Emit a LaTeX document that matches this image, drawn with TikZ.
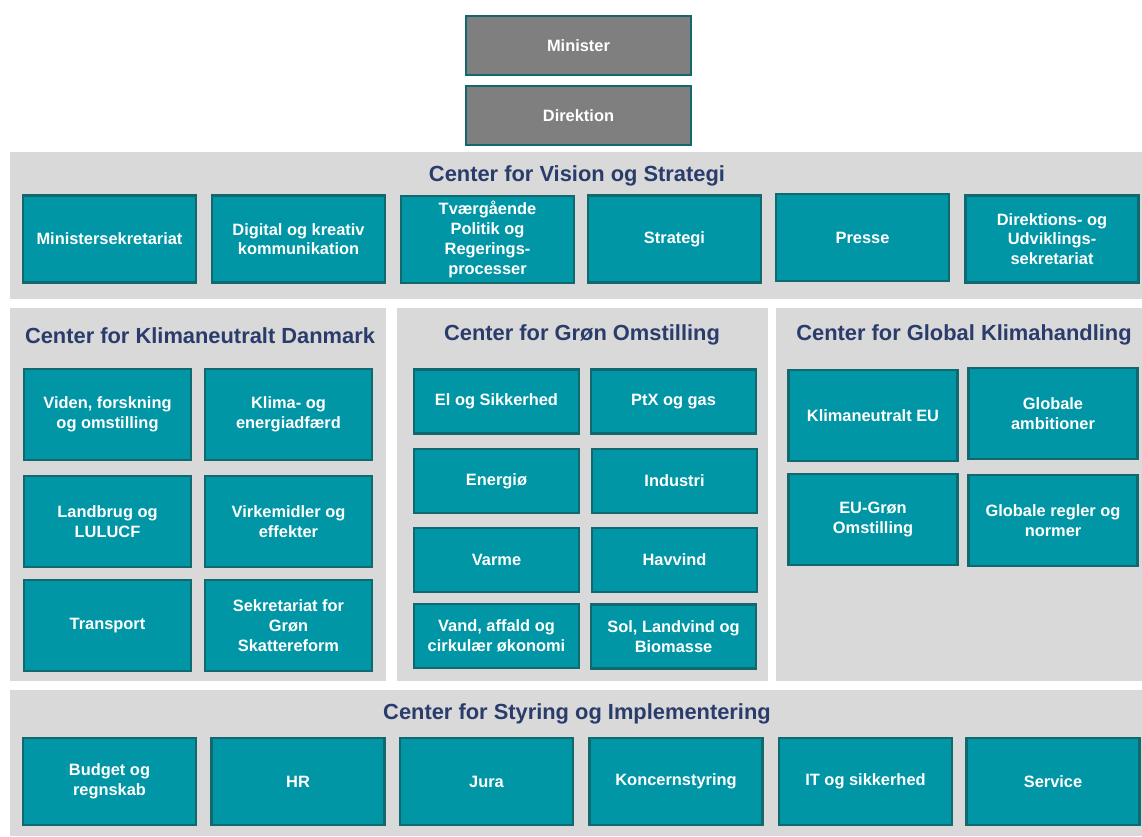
\documentclass[tikz,border=0pt]{standalone}
\usepackage{fontspec}
\setmainfont{Liberation Sans}
\usetikzlibrary{positioning}
\definecolor{boxfill}{HTML}{0096A5}
\definecolor{boxline}{HTML}{12686F}
\definecolor{headgray}{HTML}{7F7F7F}
\definecolor{panelgray}{HTML}{D9D9D9}
\definecolor{titleblue}{HTML}{2A3C6B}
\begin{document}
\begin{tikzpicture}[x=0.75pt, y=-0.75pt,
    panel/.style = {fill=panelgray},
    title/.style = {text=titleblue, font=\fontsize{16.4}{19}\selectfont\bfseries},
    unit/.style  = {draw=boxline, line width=1.8pt, fill=boxfill, text=white, align=center,
                    inner sep=2pt, font=\fontsize{12.3}{14.8}\selectfont\bfseries},
    head/.style  = {unit, fill=headgray, minimum width=169pt, minimum height=44pt},
    wide/.style  = {unit, minimum width=130pt, minimum height=65pt},
    klima/.style = {unit, minimum width=125pt, minimum height=68pt},
    gron/.style  = {unit, minimum width=124pt, minimum height=48pt},
    glob/.style  = {unit, minimum width=127pt, minimum height=68pt}]
\useasboundingbox (0,0) rectangle (1142,836);

% top
\node[head] (minister) at (578.5,45.5) {Minister};
\node[head, below=6.75pt of minister] (direktion) {Direktion};

% grey panels
\fill[panel] (10,152) rectangle (1142,299);
\fill[panel] (10,308) rectangle (386,681);
\fill[panel] (397,308) rectangle (768,681);
\fill[panel] (776,308) rectangle (1142,681);
\fill[panel] (10,690) rectangle (1142,836);

% Center for Vision og Strategi
\node[title] (tvision) at (577,176) {Center for Vision og Strategi};
\node[wide] (v1) at (109.5,239) {Ministersekretariat};
\node[wide] (v2) at (298.5,239) {Digital og kreativ\\kommunikation};
\node[wide] (v3) at (487.5,239.5) {Tværgående\\Politik og\\Regerings-\\processer};
\node[wide] (v4) at (674.5,239) {Strategi};
\node[wide] (v5) at (862.5,237.5) {Presse};
\node[wide] (v6) at (1052,239) {Direktions- og\\Udviklings-\\sekretariat};

% Center for Klimaneutralt Danmark
\node[title] (tklima) at (200,336) {Center for Klimaneutralt Danmark};
\node[klima] (k1) at (107.5,414.5) {Viden, forskning\\og omstilling};
\node[klima] (k2) at (288.5,414.5) {Klima- og\\energiadfærd};
\node[klima] (k3) at (107.5,521.5) {Landbrug og\\LULUCF};
\node[klima] (k4) at (288.5,521.5) {Virkemidler og\\effekter};
\node[klima] (k5) at (107.5,625.5) {Transport};
\node[klima] (k6) at (288.5,625.5) {Sekretariat for\\Grøn\\Skattereform};

% Center for Grøn Omstilling
\node[title] (tgron) at (582,335) {Center for Grøn Omstilling};
\node[gron] (g1) at (496.5,401.5) {El og Sikkerhed};
\node[gron] (g2) at (673.5,401.5) {PtX og gas};
\node[gron] (g3) at (496.5,481) {Energiø};
\node[gron] (g4) at (674.5,481) {Industri};
\node[gron] (g5) at (496.5,560) {Varme};
\node[gron] (g6) at (674.5,560) {Havvind};
\node[gron] (g7) at (496.5,636) {Vand, affald og\\cirkulær økonomi};
\node[gron] (g8) at (673.5,636.5) {Sol, Landvind og\\Biomasse};

% Center for Global Klimahandling
\node[title] (tglobal) at (964,335) {Center for Global Klimahandling};
\node[glob] (e1) at (873,415.5) {Klimaneutralt EU};
\node[glob] (e2) at (1053,413.5) {Globale\\ambitioner};
\node[glob] (e3) at (873,519.5) {EU-Grøn\\Omstilling};
\node[glob] (e4) at (1053,520.5) {Globale regler og\\normer};

% Center for Styring og Implementering
\node[title] (tstyring) at (577,714) {Center for Styring og Implementering};
\node[wide] (s1) at (109.5,781.5) {Budget og\\regnskab};
\node[wide] (s2) at (298,781.5) {HR};
\node[wide] (s3) at (486.5,781.5) {Jura};
\node[wide] (s4) at (676,781.5) {Koncernstyring};
\node[wide] (s5) at (865.5,781.5) {IT og sikkerhed};
\node[wide] (s6) at (1053,781.5) {Service};
\end{tikzpicture}
\end{document}
